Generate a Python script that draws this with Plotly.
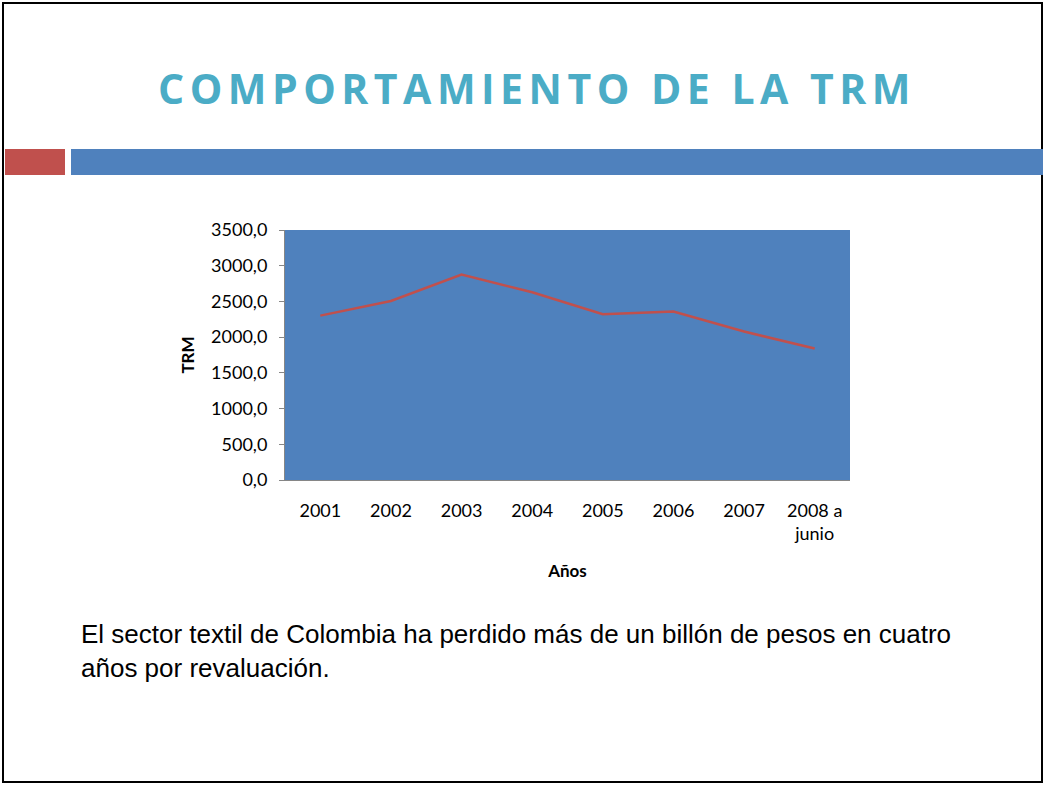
import plotly.graph_objects as go

# datos
anios = ["2001", "2002", "2003", "2004", "2005", "2006", "2007", "2008 a<br>junio"]
trm = [2301, 2507, 2877, 2628, 2321, 2358, 2078, 1840]
y_ticks = [0, 500, 1000, 1500, 2000, 2500, 3000, 3500]

W, H = 1045, 785


def px(x):
    return x / W


def py(y):
    return 1 - y / H


fig = go.Figure()
fig.add_trace(go.Scatter(x=anios, y=trm, mode="lines",
                         line=dict(color="#C0504D", width=2.5),
                         showlegend=False, hoverinfo="x+y"))

fig.update_layout(
    width=W, height=H,
    margin=dict(l=0, r=0, t=0, b=0),
    paper_bgcolor="white",
    plot_bgcolor="#4F81BD",
    separators=",.",
    font=dict(family="Lato", size=18, color="black"),
)

fig.update_xaxes(
    domain=[px(285), px(850)],
    automargin=False,
    type="category",
    range=[-0.5, 7.5],
    showgrid=False, zeroline=False,
    showline=True, linecolor="#868686", linewidth=1,
    ticks="", ticklabelstandoff=14,
    tickfont=dict(size=18),
    title=dict(text="<b>Años</b>", font=dict(size=17), standoff=22),
)
fig.update_yaxes(
    domain=[py(480), py(230)],
    automargin=False,
    range=[0, 3500],
    tickvals=y_ticks, tickformat=".1f",
    showgrid=False, zeroline=False,
    showline=True, linecolor="#868686", linewidth=1,
    ticks="outside", ticklen=5, tickcolor="#868686",
    ticklabelstandoff=8,
    tickfont=dict(size=18),
    title=dict(text="<b>TRM</b>", font=dict(size=17), standoff=12),
)

# marco de la diapositiva y barras decorativas
fig.add_shape(type="rect", xref="paper", yref="paper",
              x0=px(3), x1=px(1042), y0=py(782), y1=py(3),
              line=dict(color="black", width=2), fillcolor="rgba(0,0,0,0)")
fig.add_shape(type="rect", xref="paper", yref="paper",
              x0=px(5), x1=px(65), y0=py(175), y1=py(149),
              line=dict(width=0), fillcolor="#C0504D")
fig.add_shape(type="rect", xref="paper", yref="paper",
              x0=px(71), x1=px(1043), y0=py(175), y1=py(149),
              line=dict(width=0), fillcolor="#4F81BD")

fig.add_annotation(
    text='<span style="letter-spacing:5.5px"><b>COMPORTAMIENTO DE LA TRM</b></span>',
    xref="paper", yref="paper", x=px(537), y=py(88),
    xanchor="center", yanchor="middle", showarrow=False,
    font=dict(family="Open Sans", size=41, color="#4BACC6"),
)
fig.add_annotation(
    text="El sector textil de Colombia ha perdido más de un billón de pesos en cuatro<br>años por revaluación.",
    xref="paper", yref="paper", x=px(79), y=py(617),
    xanchor="left", yanchor="top", align="left", showarrow=False,
    font=dict(family="Liberation Sans", size=26, color="black"),
)

fig.write_html("out.html", config={"displayModeBar": False},
               post_script="document.body.style.margin='0';")
